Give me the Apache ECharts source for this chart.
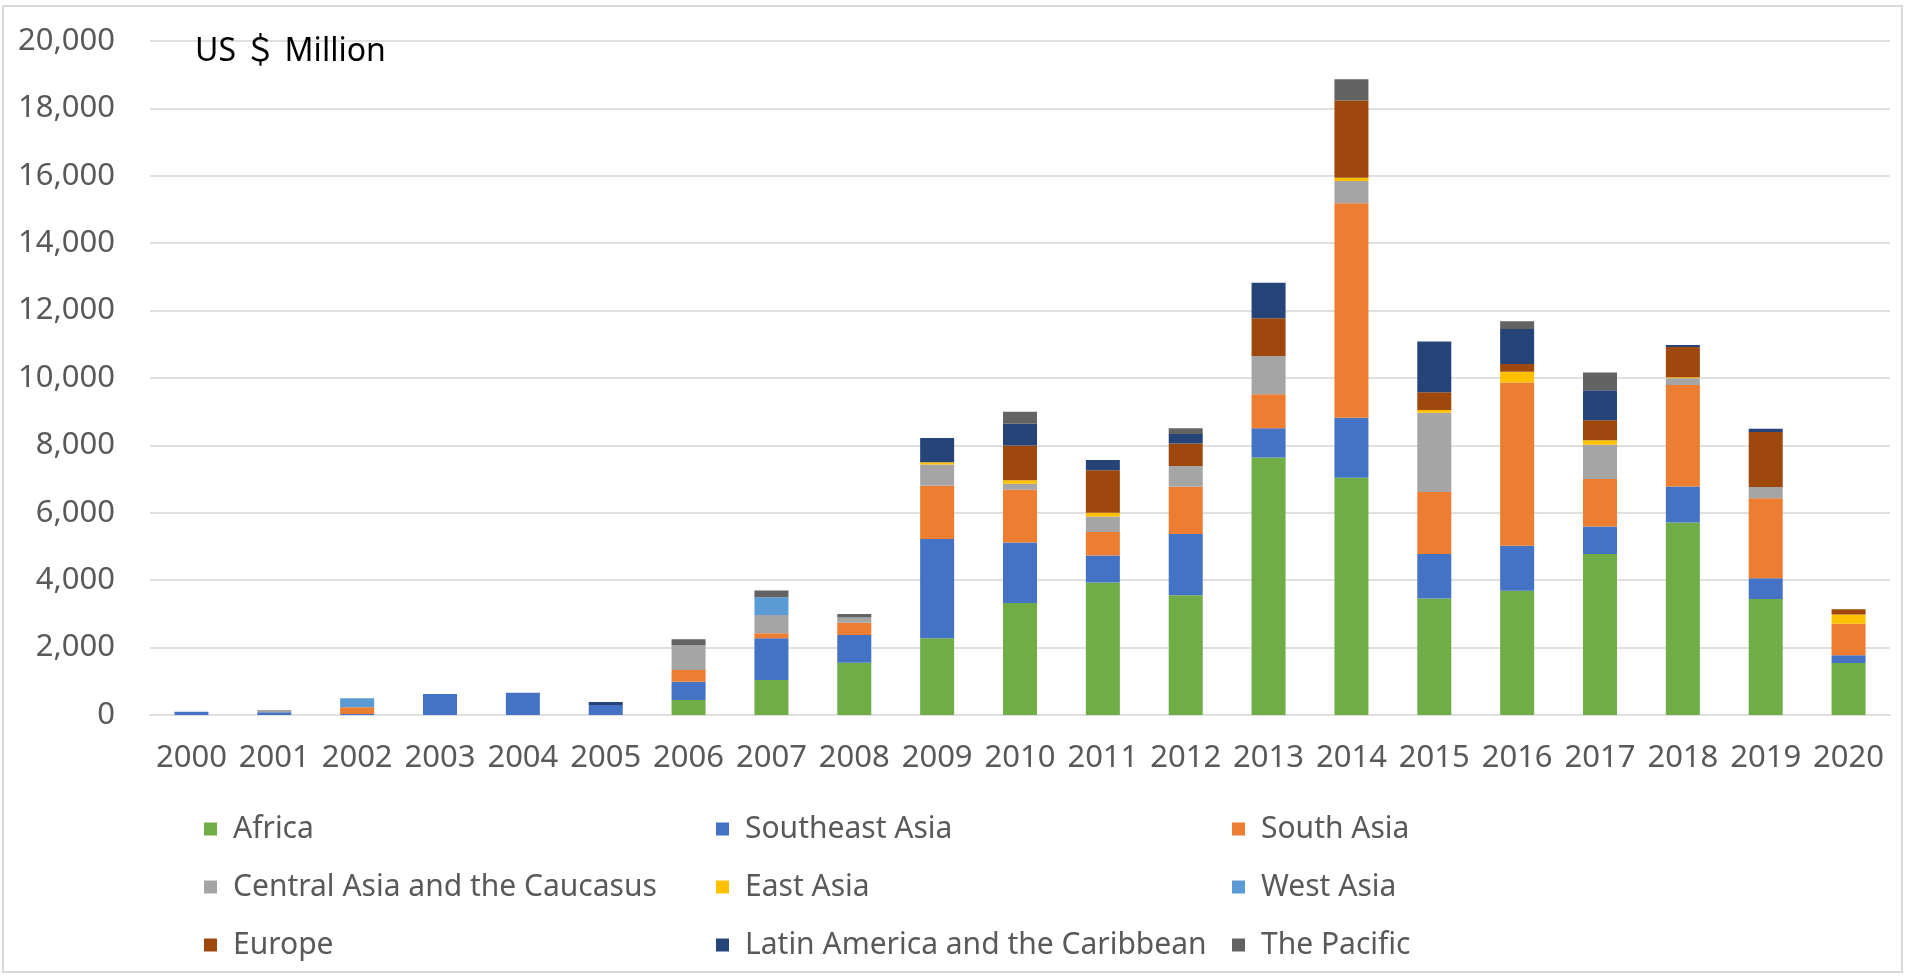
<!DOCTYPE html>
<html>
<head>
<meta charset="utf-8">
<title>Regional financing, US$ Million</title>
<script src="https://cdn.jsdelivr.net/npm/echarts@6.0.0/dist/echarts.min.js"></script>
<style>
  html, body { margin: 0; padding: 0; background: #ffffff; }
  #chart { width: 1905px; height: 977px; }
</style>
</head>
<body>
<div id="chart"></div>
<script>
// Years on the category axis
const years = ['2000','2001','2002','2003','2004','2005','2006','2007','2008','2009','2010',
               '2011','2012','2013','2014','2015','2016','2017','2018','2019','2020'];

// Annual amounts by region, US$ million (stacked in this order)
const africa        = [0, 0, 0, 0, 0, 0, 445, 1040, 1550, 2280, 3320, 3930, 3550, 7640, 7040, 3460, 3690, 4780, 5710, 3440, 1540];
const southeastAsia = [100, 80, 30, 620, 660, 300, 545, 1236, 824, 2940, 1800, 800, 1820, 870, 1780, 1320, 1330, 810, 1070, 615, 230];
const southAsia     = [0, 0, 200, 0, 0, 0, 346, 148, 360, 1585, 1565, 700, 1400, 1010, 6365, 1840, 4845, 1410, 3010, 2380, 940];
const centralAsia   = [0, 70, 0, 0, 0, 0, 742, 546, 160, 625, 180, 460, 620, 1135, 660, 2350, 0, 1020, 200, 330, 0];
const eastAsia      = [0, 0, 0, 0, 0, 0, 0, 0, 0, 70, 100, 110, 0, 0, 100, 80, 320, 130, 30, 0, 270];
const westAsia      = [0, 0, 270, 0, 0, 0, 0, 525, 0, 0, 0, 0, 0, 0, 0, 0, 0, 0, 0, 0, 0];
const europe        = [0, 0, 0, 0, 0, 0, 0, 0, 0, 0, 1030, 1260, 670, 1120, 2290, 530, 230, 600, 900, 1630, 160];
const latinAmerica  = [0, 0, 0, 0, 0, 85, 0, 0, 0, 720, 650, 310, 280, 1050, 0, 1500, 1040, 890, 60, 100, 0];
const pacific       = [0, 0, 0, 0, 0, 0, 169, 200, 100, 0, 350, 0, 170, 0, 630, 0, 230, 520, 0, 0, 0];

// Y axis ticks
const yTicks = { min: 0, max: 20000, step: 2000 };

const regions = [
  { name: 'Africa',                          data: africa,        color: '#70AD47' },
  { name: 'Southeast Asia',                  data: southeastAsia, color: '#4472C4' },
  { name: 'South Asia',                      data: southAsia,     color: '#ED7D31' },
  { name: 'Central Asia and the Caucasus',   data: centralAsia,   color: '#A5A5A5' },
  { name: 'East Asia',                       data: eastAsia,      color: '#FFC000' },
  { name: 'West Asia',                       data: westAsia,      color: '#5B9BD5' },
  { name: 'Europe',                          data: europe,        color: '#9E480E' },
  { name: 'Latin America and the Caribbean', data: latinAmerica,  color: '#264478' },
  { name: 'The Pacific',                     data: pacific,       color: '#636363' }
];

const FONT = '"Noto Sans", "Open Sans", sans-serif';
const labelGrey = '#595959';
const gridGrey = '#e0e0e0';

// Legend laid out as a 3 x 3 grid, one legend block per entry
const legendCols = [204, 716, 1232];
const legendRows = [829, 887, 945];
const legends = regions.map((r, i) => ({
  data: [r.name],
  left: legendCols[i % 3],
  top: legendRows[Math.floor(i / 3)] - 18,
  padding: 0,
  icon: 'rect',
  itemWidth: 13,
  itemHeight: 13,
  selectedMode: false,
  textStyle: {
    fontFamily: FONT,
    fontSize: 30,
    lineHeight: 36,
    color: labelGrey,
    padding: [0, 0, 0, 11]
  }
}));

const chart = echarts.init(document.getElementById('chart'), null, { renderer: 'canvas' });

chart.setOption({
  backgroundColor: '#ffffff',
  animation: false,
  textStyle: { fontFamily: FONT },
  grid: {
    left: 150,
    right: 15,
    top: 41,
    bottom: 262,
    containLabel: false,
    outerBoundsMode: 'none'
  },
  legend: legends,
  xAxis: {
    type: 'category',
    data: years,
    axisTick: { show: false },
    axisLine: { show: true, lineStyle: { color: gridGrey, width: 2 } },
    axisLabel: {
      color: labelGrey,
      fontFamily: FONT,
      fontSize: 31,
      margin: 28,
      interval: 0
    }
  },
  yAxis: {
    type: 'value',
    min: yTicks.min,
    max: yTicks.max,
    interval: yTicks.step,
    axisLine: { show: false },
    axisTick: { show: false },
    splitLine: { lineStyle: { color: gridGrey, width: 2 } },
    axisLabel: {
      color: labelGrey,
      fontFamily: FONT,
      fontSize: 31,
      margin: 35,
      formatter: v => v.toLocaleString('en-US')
    }
  },
  series: regions.map(r => ({
    name: r.name,
    type: 'bar',
    stack: 'total',
    data: r.data,
    barWidth: 34,
    itemStyle: { color: r.color },
    emphasis: { disabled: true }
  })),
  graphic: [
    {
      type: 'rect',
      silent: true,
      shape: { x: 3, y: 6, width: 1899, height: 966 },
      style: { fill: 'none', stroke: '#d9d9d9', lineWidth: 2 }
    },
    {
      type: 'text',
      left: 195,
      top: 36,
      silent: true,
      z: 10,
      style: {
        text: 'US ＄ Million',
        fill: '#000000',
        font: '32px "Noto Sans", "Noto Sans CJK SC", sans-serif'
      }
    }
  ]
});
</script>
</body>
</html>
